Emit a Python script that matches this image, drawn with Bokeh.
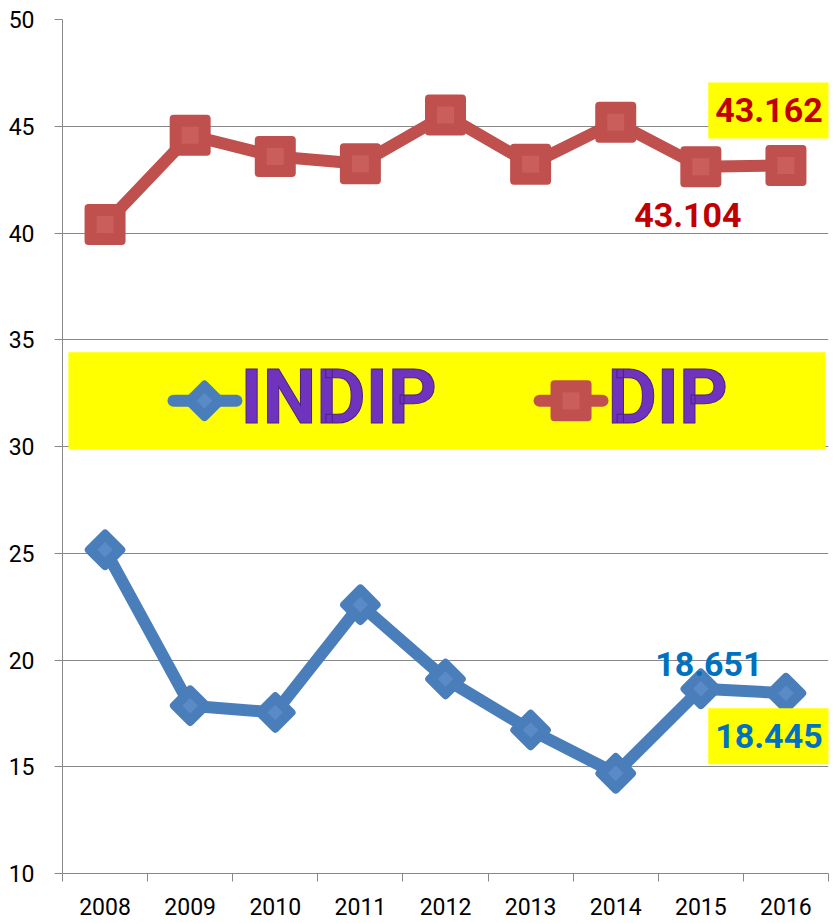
import numpy as np
from bokeh.plotting import figure
from bokeh.models import Range1d, FixedTicker, Label, ColumnDataSource
from bokeh.core.properties import value
from bokeh.embed import file_html
from bokeh.resources import INLINE

# ---- data ----
years = ["2008", "2009", "2010", "2011", "2012", "2013", "2014", "2015", "2016"]
dip = [40.40, 44.58, 43.58, 43.24, 45.53, 43.22, 45.19, 43.104, 43.162]
indip = [25.16, 17.86, 17.54, 22.59, 19.11, 16.72, 14.69, 18.651, 18.445]
y_ticks = [10, 15, 20, 25, 30, 35, 40, 45, 50]
series_names = ["INDIP", "DIP"]

RED = "#C0504D"
RED_IN = "#C95E5B"
BLUE = "#4A7EBB"
BLUE_IN = "#5B8BC6"
GRID = "#888888"
FONT = "Roboto"

n = len(years)
xc = np.arange(n) + 0.5  # category centres

p = figure(width=836, height=920, output_backend="svg", toolbar_location=None,
           x_range=Range1d(0, n), y_range=Range1d(y_ticks[0], y_ticks[-1]),
           min_border_left=62, min_border_right=8, min_border_top=19, min_border_bottom=47)
p.outline_line_color = None
p.background_fill_color = "white"

# axes
p.xaxis.ticker = FixedTicker(ticks=list(xc), minor_ticks=list(range(n + 1)))
p.xaxis.major_label_overrides = {float(x): y for x, y in zip(xc, years)}
p.xaxis.major_tick_line_color = None
p.xaxis.minor_tick_out = 8
p.xaxis.minor_tick_in = 0
p.xaxis.minor_tick_line_color = GRID
p.xaxis.axis_line_color = GRID
p.xaxis.major_label_standoff = 16
p.xaxis.major_label_text_font = FONT
p.xaxis.major_label_text_font_size = "23px"
p.xaxis.major_label_text_color = "black"

p.yaxis.ticker = FixedTicker(ticks=y_ticks)
p.yaxis.major_tick_out = 8
p.yaxis.major_tick_in = 0
p.yaxis.minor_tick_line_color = None
p.yaxis.major_tick_line_color = GRID
p.yaxis.axis_line_color = GRID
p.yaxis.major_label_standoff = 20
p.yaxis.major_label_text_font = FONT
p.yaxis.major_label_text_font_size = "23px"
p.yaxis.major_label_text_color = "black"

p.xgrid.grid_line_color = None
p.ygrid.ticker = FixedTicker(ticks=y_ticks)
p.ygrid.grid_line_color = GRID
p.ygrid.grid_line_width = 1

# ---- legend box (yellow) ----
p.quad(left=[0.07], right=[8.965], bottom=[29.87], top=[34.41],
       fill_color="#FFFF00", line_color=None)

# ---- series ----
src = ColumnDataSource(dict(x=xc, dip=dip, indip=indip))
p.line("x", "indip", source=src, line_color=BLUE, line_width=12, line_join="round")
p.scatter("x", "indip", source=src, marker="square", size=23, angle=45, angle_units="deg",
          fill_color=BLUE, line_color=BLUE, line_width=8, line_join="round")
p.scatter("x", "indip", source=src, marker="square", size=11, angle=45, angle_units="deg",
          fill_color=BLUE_IN, line_color=None)

p.line("x", "dip", source=src, line_color=RED, line_width=12, line_join="round")
p.scatter("x", "dip", source=src, marker="square", size=33,
          fill_color=RED, line_color=RED, line_width=8, line_join="round")
p.scatter("x", "dip", source=src, marker="square", size=17,
          fill_color=RED_IN, line_color=None)

# ---- legend contents ----
leg_y = 32.14
p.line([1.304, 2.044], [leg_y, leg_y], line_color=BLUE, line_width=12, line_cap="round")
p.scatter([1.668], [leg_y], marker="square", size=23, angle=45, angle_units="deg",
          fill_color=BLUE, line_color=BLUE, line_width=8, line_join="round")
p.scatter([1.668], [leg_y], marker="square", size=11, angle=45, angle_units="deg",
          fill_color=BLUE_IN, line_color=None)
p.line([5.605, 6.345], [leg_y, leg_y], line_color=RED, line_width=12, line_cap="round")
p.scatter([5.975], [leg_y], marker="square", size=33,
          fill_color=RED, line_color=RED, line_width=8, line_join="round")
p.scatter([5.975], [leg_y], marker="square", size=17,
          fill_color=RED_IN, line_color=None)
p.text(x=[2.091, 6.403], y=[32.31, 32.31], text=series_names,
       text_font=value(FONT), text_font_style="bold", text_font_size="76px",
       text_color="#7033BD", text_baseline="alphabetic", text_align="left",
       text_outline_color="#4B2186")

# ---- value labels ----
lab_font = dict(text_font=FONT, text_font_style="bold", text_font_size="34px",
                text_align="center", text_baseline="middle")
pad = (7, 7, 16, 16)  # left, right, top, bottom
i15, i16 = years.index("2015"), years.index("2016")
p.add_layout(Label(x=xc[i16], y=dip[i16], text=f"{dip[i16]:.3f}", x_offset=-17, y_offset=55,
                   text_color="#C00000", background_fill_color="#FFFF00", padding=pad, **lab_font))
p.add_layout(Label(x=xc[i15], y=dip[i15], text=f"{dip[i15]:.3f}", x_offset=-13, y_offset=-48,
                   text_color="#C00000", **lab_font))
p.add_layout(Label(x=xc[i15], y=indip[i15], text=f"{indip[i15]:.3f}", x_offset=8, y_offset=25,
                   text_color="#0070C0", **lab_font))
p.add_layout(Label(x=xc[i16], y=indip[i16], text=f"{indip[i16]:.3f}", x_offset=-17, y_offset=-43,
                   text_color="#0070C0", background_fill_color="#FFFF00", padding=pad, **lab_font))

open("out.html", "w").write(file_html(p, INLINE))
